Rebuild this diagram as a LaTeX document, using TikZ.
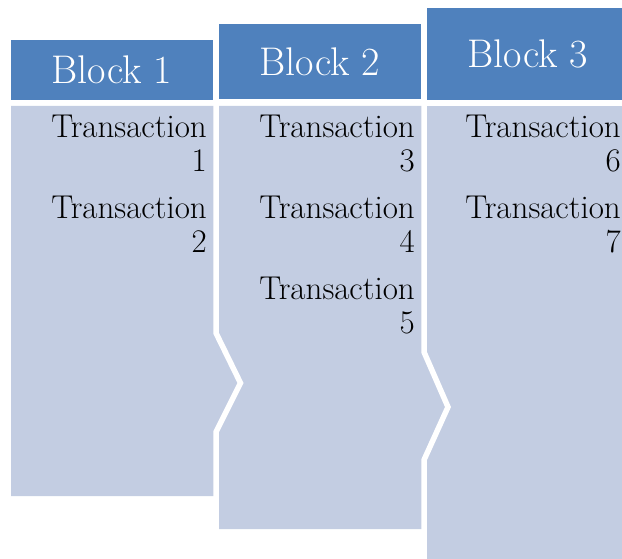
\documentclass[tikz,border=0pt]{standalone}
\usepackage{fontspec}
\definecolor{headblue}{RGB}{79,129,189}
\definecolor{bodyblue}{RGB}{195,205,226}

\begin{document}
\begin{tikzpicture}[x=1pt,y=-1pt,
    head/.style={fill=headblue,text=white,inner sep=0pt,minimum width=202pt,
      font=\fontsize{40}{42}\selectfont},
    txn/.style={anchor=base east,align=right,inner sep=0pt,
      font=\fontsize{33}{34}\selectfont},
    sep/.style={white,line width=5.5pt,line join=miter}]
      \useasboundingbox (0,0) rectangle (622,559) ;
      \clip (0,0) rectangle (622,559) ;
      % column bodies, right to left so each tip lies over the next one
      \fill[bodyblue] (424,106) rectangle (640,570) ;
      \fill[bodyblue] (216,106) -- (424,106) -- (424,352) -- (448,407)
        -- (424,460) -- (424,529) -- (216,529) -- cycle ;
      \fill[bodyblue] (11,106) -- (216,106) -- (216,333) -- (240.5,383)
        -- (216,432) -- (216,496) -- (11,496) -- cycle ;
      \draw[sep] (216,100) -- (216,333) -- (240.5,383) -- (216,432) -- (216,565) ;
      \draw[sep] (424,100) -- (424,352) -- (448,407) -- (424,460) -- (424,565) ;
      % headers
      \node[head,minimum height=60pt] (H1) at (112,70) {Block 1} ;
      \node[head,minimum height=75pt] (H2) at (320,61.5) {Block 2} ;
      \node[head,minimum height=92pt] (H3) at (528,54) {Block 3} ;
      % transactions (anchored on the number line)
      \node[txn] (T1) at (207,172) {Transaction\\1} ;
      \node[txn] (T2) at (207,253) {Transaction\\2} ;
      \node[txn] (T3) at (415,172) {Transaction\\3} ;
      \node[txn] (T4) at (415,253) {Transaction\\4} ;
      \node[txn] (T5) at (415,334) {Transaction\\5} ;
      \node[txn] (T6) at (621,172) {Transaction\\6} ;
      \node[txn] (T7) at (621,253) {Transaction\\7} ;
    \end{tikzpicture}
\end{document}
